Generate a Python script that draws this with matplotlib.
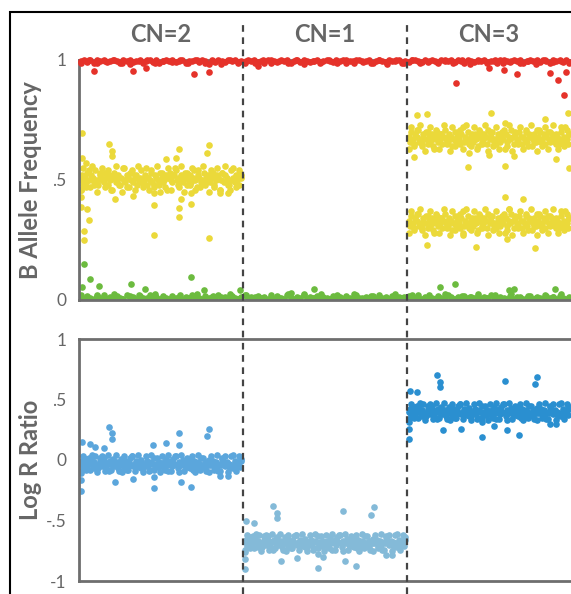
import numpy as np
import matplotlib
matplotlib.use("Agg")
import matplotlib.pyplot as plt
from matplotlib import transforms
from matplotlib.lines import Line2D
from matplotlib.patches import Rectangle

plt.rcParams['font.family'] = ['Lato', 'DejaVu Sans']

# segments along the chromosome (x units: one per segment)
segments = ["CN=2", "CN=1", "CN=3"]
seg_edges = [0, 1, 2, 3]

# ---- B allele frequency ----
# homozygous BB (red), across all three segments
baf_bb = [
    0.997, 1.0, 0.993, 0.998, 0.988, 1.0, 0.995, 0.999, 0.991, 0.997, 1.0, 0.994, 0.986, 0.998, 0.996,
    1.0, 0.992, 0.997, 0.999, 0.989, 0.995, 1.0, 0.993, 0.998, 0.987, 0.996, 1.0, 0.994, 0.999, 0.991,
    0.996, 1.0, 0.988, 0.997, 0.994, 0.999, 0.992, 1.0, 0.996, 0.985, 0.998, 0.993, 1.0, 0.995, 0.990,
    0.998, 0.994, 1.0, 0.991, 0.997, 0.987, 0.999, 0.995, 1.0, 0.993, 0.996, 0.989, 0.998, 1.0, 0.994,
    0.992, 0.999, 0.996, 1.0, 0.988, 0.995, 0.998, 0.993, 1.0, 0.997, 0.990, 0.996, 0.999, 0.986, 0.997,
    1.0, 0.995, 0.991, 0.998, 0.996, 1.0, 0.989, 0.997, 0.994, 0.999, 1.0, 0.992, 0.996, 0.998, 0.988,
    0.995, 1.0, 0.997, 0.990, 0.999, 0.994, 0.998, 1.0, 0.987, 0.996, 0.993, 0.999, 1.0, 0.995, 0.991,
    0.998, 0.992, 1.0, 0.996, 0.989, 0.999, 0.995, 0.997, 1.0, 0.990, 0.998, 0.994, 0.986, 1.0, 0.996,
    0.993, 0.999, 0.996, 1.0, 0.991, 0.997, 0.994, 0.988, 0.999, 1.0, 0.995, 0.992, 0.998, 0.996, 1.0,
    0.989, 0.997, 1.0, 0.994, 0.998, 0.992, 0.999, 0.996, 0.987, 1.0, 0.995, 0.998, 0.993, 0.999, 0.990,
]
baf_bb_extra = [
    0.988, 0.999, 0.986, 0.995, 1.0, 0.989, 0.985, 0.997, 0.999, 0.987, 0.996, 0.990,
    0.998, 0.986, 1.0, 0.988, 0.994, 0.985, 0.999, 0.987, 0.997, 0.989, 1.0, 0.986,
    0.995, 0.988, 0.999, 0.985, 0.996, 0.990, 1.0, 0.987, 0.998, 0.986, 0.994, 0.989,
    0.999, 0.985, 0.997, 0.988, 1.0, 0.986, 0.995, 0.990, 0.998, 0.987, 0.999, 0.985,
    0.996, 0.989, 1.0, 0.986, 0.994, 0.988, 0.997, 0.985, 0.999, 0.990, 0.995, 0.987,
]
# homozygous AA (green), across all three segments
baf_aa = [
    0.012, 0.006, 0.018, 0.009, 0.004, 0.015, 0.008, 0.021, 0.005, 0.011, 0.007, 0.016, 0.010, 0.004, 0.019,
    0.007, 0.013, 0.005, 0.017, 0.009, 0.004, 0.022, 0.008, 0.012, 0.006, 0.015, 0.010, 0.005, 0.018, 0.008,
    0.011, 0.005, 0.014, 0.008, 0.020, 0.006, 0.010, 0.004, 0.016, 0.009, 0.013, 0.005, 0.019, 0.007, 0.012,
    0.006, 0.016, 0.009, 0.004, 0.013, 0.021, 0.007, 0.011, 0.005, 0.017, 0.008, 0.014, 0.006, 0.010, 0.004,
    0.015, 0.008, 0.005, 0.019, 0.010, 0.006, 0.013, 0.009, 0.023, 0.005, 0.011, 0.007, 0.016, 0.004, 0.012,
    0.009, 0.004, 0.017, 0.007, 0.012, 0.005, 0.015, 0.010, 0.006, 0.020, 0.008, 0.004, 0.013, 0.009, 0.018,
    0.005, 0.014, 0.008, 0.011, 0.004, 0.018, 0.006, 0.012, 0.009, 0.005, 0.016, 0.010, 0.007, 0.021, 0.006,
    0.013, 0.007, 0.010, 0.004, 0.016, 0.008, 0.005, 0.019, 0.011, 0.006, 0.014, 0.004, 0.017, 0.009, 0.012,
    0.008, 0.015, 0.005, 0.012, 0.007, 0.020, 0.009, 0.004, 0.013, 0.010, 0.006, 0.018, 0.005, 0.011, 0.014,
    0.004, 0.010, 0.016, 0.006, 0.013, 0.008, 0.005, 0.017, 0.007, 0.012, 0.004, 0.015, 0.009, 0.006, 0.011,
]
baf_aa_extra = [
    0.022, 0.006, 0.019, 0.010, 0.024, 0.005, 0.017, 0.021, 0.008, 0.025, 0.012, 0.004,
    0.020, 0.009, 0.023, 0.006, 0.018, 0.011, 0.024, 0.005, 0.021, 0.014, 0.007, 0.022,
    0.010, 0.025, 0.006, 0.019, 0.008, 0.023, 0.004, 0.020, 0.012, 0.024, 0.007, 0.018,
    0.021, 0.005, 0.025, 0.011, 0.019, 0.006, 0.022, 0.009, 0.024, 0.004, 0.017, 0.013,
    0.023, 0.008, 0.020, 0.005, 0.025, 0.010, 0.018, 0.007, 0.022, 0.012, 0.024, 0.006,
]
# heterozygous, CN=2 (AB ~ .5)
baf_het_cn2 = [
    0.50, 0.52, 0.48, 0.51, 0.49, 0.53, 0.50, 0.47, 0.52, 0.51, 0.49, 0.54,
    0.50, 0.48, 0.52, 0.51, 0.50, 0.49, 0.53, 0.51, 0.48, 0.52, 0.50, 0.46,
    0.51, 0.53, 0.49, 0.50, 0.52, 0.48, 0.51, 0.55, 0.50, 0.49, 0.52, 0.51,
    0.47, 0.50, 0.53, 0.49, 0.51, 0.52, 0.48, 0.50, 0.51, 0.54, 0.49, 0.50,
    0.52, 0.48, 0.51, 0.50, 0.53, 0.49, 0.47, 0.52, 0.51, 0.50, 0.48, 0.53,
    0.51, 0.49, 0.50, 0.52, 0.46, 0.51, 0.53, 0.50, 0.49, 0.52, 0.55, 0.50,
    0.48, 0.51, 0.52, 0.50, 0.49, 0.53, 0.51, 0.48, 0.50, 0.52, 0.49, 0.51,
    0.54, 0.50, 0.47, 0.52, 0.51, 0.49, 0.50, 0.53, 0.48, 0.51, 0.52, 0.50,
    0.49, 0.51, 0.53, 0.48, 0.50, 0.52, 0.51, 0.46, 0.50, 0.53, 0.49, 0.52,
    0.51, 0.50, 0.48, 0.54, 0.50, 0.51, 0.49, 0.52, 0.50, 0.48, 0.53, 0.51,
]
baf_het_cn2_extra = [
    0.46, 0.55, 0.47, 0.54, 0.56, 0.48, 0.45, 0.53, 0.55, 0.47, 0.54, 0.46,
    0.52, 0.56, 0.48, 0.45, 0.55, 0.47, 0.53, 0.54, 0.46, 0.56, 0.49, 0.47,
    0.55, 0.46, 0.54, 0.48, 0.56, 0.45, 0.53, 0.47, 0.55, 0.46, 0.52, 0.54,
    0.47, 0.56, 0.45, 0.53, 0.48, 0.55, 0.46, 0.54, 0.47, 0.56, 0.49, 0.45,
    0.54, 0.47, 0.55, 0.46, 0.53, 0.56, 0.48, 0.46, 0.55, 0.47, 0.54, 0.52,
]
# heterozygous, CN=3 (ABB ~ .67 and AAB ~ .33)
baf_abb_cn3 = [
    0.68, 0.66, 0.70, 0.67, 0.65, 0.69, 0.68, 0.71, 0.66, 0.67, 0.64, 0.69,
    0.67, 0.70, 0.65, 0.68, 0.66, 0.69, 0.67, 0.63, 0.68, 0.70, 0.66, 0.67,
    0.69, 0.65, 0.68, 0.71, 0.67, 0.66, 0.69, 0.68, 0.64, 0.67, 0.70, 0.66,
    0.68, 0.67, 0.65, 0.69, 0.72, 0.66, 0.68, 0.67, 0.70, 0.65, 0.68, 0.69,
    0.66, 0.69, 0.67, 0.64, 0.68, 0.70, 0.66, 0.67, 0.69, 0.68, 0.65, 0.71,
    0.67, 0.68, 0.70, 0.66, 0.67, 0.65, 0.69, 0.68, 0.66, 0.70, 0.67, 0.63,
    0.69, 0.66, 0.68, 0.67, 0.71, 0.68, 0.65, 0.69, 0.67, 0.66, 0.70, 0.68,
    0.65, 0.68, 0.67, 0.70, 0.66, 0.69, 0.68, 0.64, 0.67, 0.69, 0.66, 0.71,
    0.68, 0.70, 0.66, 0.67, 0.69, 0.65, 0.68, 0.70, 0.67, 0.66, 0.69, 0.67,
    0.66, 0.69, 0.68, 0.65, 0.67, 0.70, 0.66, 0.68, 0.72, 0.67, 0.65, 0.69,
]
baf_abb_cn3_extra = [
    0.63, 0.72, 0.64, 0.71, 0.73, 0.65, 0.62, 0.70, 0.72, 0.64, 0.71, 0.63,
    0.69, 0.73, 0.65, 0.62, 0.72, 0.64, 0.70, 0.71, 0.63, 0.73, 0.66, 0.64,
    0.72, 0.63, 0.71, 0.65, 0.73, 0.62, 0.70, 0.64, 0.72, 0.63, 0.69, 0.71,
    0.64, 0.73, 0.62, 0.70, 0.65, 0.72, 0.63, 0.71, 0.64, 0.73, 0.66, 0.62,
    0.71, 0.64, 0.72, 0.63, 0.70, 0.73, 0.65, 0.63, 0.72, 0.64, 0.71, 0.69,
]
baf_aab_cn3 = [
    0.33, 0.31, 0.35, 0.32, 0.30, 0.34, 0.33, 0.36, 0.31, 0.32, 0.29, 0.34,
    0.32, 0.35, 0.30, 0.33, 0.31, 0.34, 0.32, 0.28, 0.33, 0.35, 0.31, 0.32,
    0.34, 0.30, 0.33, 0.36, 0.32, 0.31, 0.34, 0.33, 0.29, 0.32, 0.35, 0.31,
    0.33, 0.32, 0.30, 0.34, 0.37, 0.31, 0.33, 0.32, 0.35, 0.30, 0.33, 0.34,
    0.31, 0.34, 0.32, 0.29, 0.33, 0.35, 0.31, 0.32, 0.34, 0.33, 0.30, 0.36,
    0.32, 0.33, 0.35, 0.31, 0.32, 0.30, 0.34, 0.33, 0.31, 0.35, 0.32, 0.28,
    0.34, 0.31, 0.33, 0.32, 0.36, 0.33, 0.30, 0.34, 0.32, 0.31, 0.35, 0.33,
    0.30, 0.33, 0.32, 0.35, 0.31, 0.34, 0.33, 0.29, 0.32, 0.34, 0.31, 0.36,
    0.33, 0.35, 0.31, 0.32, 0.34, 0.30, 0.33, 0.35, 0.32, 0.31, 0.34, 0.32,
    0.31, 0.34, 0.33, 0.30, 0.32, 0.35, 0.31, 0.33, 0.37, 0.32, 0.30, 0.34,
]
baf_aab_cn3_extra = [
    0.28, 0.37, 0.29, 0.36, 0.38, 0.30, 0.27, 0.35, 0.37, 0.29, 0.36, 0.28,
    0.34, 0.38, 0.30, 0.27, 0.37, 0.29, 0.35, 0.36, 0.28, 0.38, 0.31, 0.29,
    0.37, 0.28, 0.36, 0.30, 0.38, 0.27, 0.35, 0.29, 0.37, 0.28, 0.34, 0.36,
    0.29, 0.38, 0.27, 0.35, 0.30, 0.37, 0.28, 0.36, 0.29, 0.38, 0.31, 0.27,
    0.36, 0.29, 0.37, 0.28, 0.35, 0.38, 0.30, 0.28, 0.37, 0.29, 0.36, 0.34,
]
# scattered calls off the clusters: (position, value)
baf_bb_out_x = [0.09, 0.33, 0.41, 0.70, 0.79, 1.09, 2.30, 2.50, 2.59, 2.67, 2.87, 2.92, 2.96, 2.97]
baf_bb_out_y = [0.954, 0.954, 0.967, 0.94, 0.95, 0.975, 0.904, 0.967, 0.958, 0.94, 0.946, 0.917, 0.854, 0.95]
baf_aa_out_x = [0.02, 0.03, 0.07, 0.12, 0.32, 0.40, 0.68, 0.76, 0.98, 1.29, 1.43, 2.20, 2.29, 2.62, 2.65, 2.90]
baf_aa_out_y = [0.054, 0.15, 0.087, 0.06, 0.066, 0.045, 0.096, 0.04, 0.042, 0.03, 0.045, 0.054, 0.066, 0.04, 0.046, 0.046]
baf_het_out_x = [0.02, 0.02, 0.04, 0.01, 0.01, 0.01, 0.05, 0.06, 0.03, 0.03, 0.18, 0.20, 0.20, 0.22,
                 0.33, 0.46, 0.46, 0.46, 0.53, 0.61, 0.62, 0.61, 0.61, 0.68, 0.68, 0.79, 0.78, 0.79,
                 0.86, 0.91, 0.59,
                 2.04, 2.06, 2.12, 2.37, 2.38, 2.50, 2.51, 2.60, 2.60, 2.65, 2.84, 2.91, 2.98, 2.99,
                 2.12, 2.34, 2.42, 2.60, 2.61, 2.62, 2.71, 2.78]
baf_het_out_y = [0.696, 0.59, 0.57, 0.46, 0.43, 0.387, 0.38, 0.333, 0.288, 0.25, 0.65, 0.62, 0.60, 0.42,
                 0.433, 0.446, 0.395, 0.27, 0.587, 0.63, 0.42, 0.383, 0.346, 0.40, 0.446, 0.646, 0.613, 0.258,
                 0.446, 0.446, 0.59,
                 0.596, 0.771, 0.775, 0.554, 0.612, 0.604, 0.78, 0.558, 0.737, 0.60, 0.754, 0.587, 0.78, 0.55,
                 0.229, 0.27, 0.221, 0.43, 0.254, 0.38, 0.42, 0.217]

# ---- Log R ratio ----
lrr_cn2 = [
    -0.03, -0.01, -0.06, -0.02, 0.01, -0.05, -0.03, -0.08, 0.00, -0.04, -0.02, 0.03,
    -0.04, -0.07, -0.01, -0.03, -0.05, 0.02, -0.02, -0.06, -0.03, -0.09, -0.01, -0.04,
    0.00, -0.05, -0.03, -0.02, -0.07, -0.04, 0.01, -0.03, -0.06, -0.01, -0.04, -0.08,
    -0.02, -0.04, 0.03, -0.05, -0.03, -0.01, -0.06, -0.02, -0.04, 0.00, -0.07, -0.03,
    -0.05, -0.01, -0.04, -0.08, -0.02, -0.03, 0.02, -0.05, -0.03, -0.06, -0.02, -0.04,
    -0.03, -0.06, -0.02, 0.01, -0.04, -0.09, -0.03, -0.01, -0.05, -0.03, 0.03, -0.04,
    -0.07, -0.02, -0.04, -0.03, 0.00, -0.05, -0.02, -0.06, -0.04, -0.01, -0.03, -0.08,
    -0.01, -0.04, -0.06, -0.02, -0.03, 0.02, -0.05, -0.03, -0.07, -0.02, -0.04, 0.00,
    -0.04, -0.03, -0.01, -0.06, -0.02, -0.05, -0.09, -0.03, -0.04, 0.01, -0.02, -0.05,
    -0.02, -0.05, -0.03, 0.03, -0.04, -0.07, -0.01, -0.03, -0.05, -0.02, -0.06, -0.01,
]
lrr_cn2_extra = [
    -0.09, 0.03, -0.08, 0.02, 0.04, -0.07, -0.10, 0.02, 0.03, -0.09, 0.04, -0.08,
    0.01, 0.04, -0.09, -0.10, 0.03, -0.08, 0.02, 0.03, -0.09, 0.04, -0.07, -0.10,
    0.03, -0.09, 0.04, -0.08, 0.02, -0.10, 0.03, -0.08, 0.04, -0.09, 0.01, 0.03,
    -0.10, 0.04, -0.09, 0.02, -0.07, 0.03, -0.10, 0.04, -0.08, 0.02, -0.09, -0.10,
    0.03, -0.08, 0.04, -0.09, 0.02, 0.03, -0.10, -0.07, 0.04, -0.09, 0.03, 0.01,
]
lrr_cn1 = [
    -0.68, -0.66, -0.71, -0.67, -0.64, -0.70, -0.68, -0.73, -0.65, -0.69, -0.67, -0.62,
    -0.69, -0.72, -0.66, -0.68, -0.70, -0.63, -0.67, -0.71, -0.68, -0.74, -0.66, -0.69,
    -0.65, -0.70, -0.68, -0.67, -0.72, -0.69, -0.64, -0.68, -0.71, -0.66, -0.69, -0.73,
    -0.67, -0.69, -0.62, -0.70, -0.68, -0.66, -0.71, -0.67, -0.69, -0.65, -0.72, -0.68,
    -0.70, -0.66, -0.69, -0.73, -0.67, -0.68, -0.63, -0.70, -0.68, -0.71, -0.67, -0.69,
    -0.68, -0.71, -0.67, -0.64, -0.69, -0.74, -0.68, -0.66, -0.70, -0.68, -0.62, -0.69,
    -0.72, -0.67, -0.69, -0.68, -0.65, -0.70, -0.67, -0.71, -0.69, -0.66, -0.68, -0.73,
    -0.66, -0.69, -0.71, -0.67, -0.68, -0.63, -0.70, -0.68, -0.72, -0.67, -0.69, -0.65,
    -0.69, -0.68, -0.66, -0.71, -0.67, -0.70, -0.74, -0.68, -0.69, -0.64, -0.67, -0.70,
    -0.67, -0.70, -0.68, -0.62, -0.69, -0.72, -0.66, -0.68, -0.70, -0.67, -0.71, -0.66,
]
lrr_cn1_extra = [
    -0.74, -0.62, -0.73, -0.63, -0.61, -0.72, -0.75, -0.63, -0.62, -0.74, -0.61, -0.73,
    -0.64, -0.61, -0.74, -0.75, -0.62, -0.73, -0.63, -0.62, -0.74, -0.61, -0.72, -0.75,
    -0.62, -0.74, -0.61, -0.73, -0.63, -0.75, -0.62, -0.73, -0.61, -0.74, -0.64, -0.62,
    -0.75, -0.61, -0.74, -0.63, -0.72, -0.62, -0.75, -0.61, -0.73, -0.63, -0.74, -0.75,
    -0.62, -0.73, -0.61, -0.74, -0.63, -0.62, -0.75, -0.72, -0.61, -0.74, -0.62, -0.64,
]
lrr_cn3 = [
    0.40, 0.42, 0.37, 0.41, 0.44, 0.38, 0.40, 0.35, 0.43, 0.39, 0.41, 0.46,
    0.39, 0.36, 0.42, 0.40, 0.38, 0.45, 0.41, 0.37, 0.40, 0.34, 0.42, 0.39,
    0.43, 0.38, 0.40, 0.41, 0.36, 0.39, 0.44, 0.40, 0.37, 0.42, 0.39, 0.35,
    0.41, 0.39, 0.46, 0.38, 0.40, 0.42, 0.37, 0.41, 0.39, 0.43, 0.36, 0.40,
    0.38, 0.42, 0.39, 0.35, 0.41, 0.40, 0.45, 0.38, 0.40, 0.37, 0.41, 0.39,
    0.40, 0.37, 0.41, 0.44, 0.39, 0.34, 0.40, 0.42, 0.38, 0.40, 0.46, 0.39,
    0.36, 0.41, 0.39, 0.40, 0.43, 0.38, 0.41, 0.37, 0.39, 0.42, 0.40, 0.35,
    0.42, 0.39, 0.37, 0.41, 0.40, 0.45, 0.38, 0.40, 0.36, 0.41, 0.39, 0.43,
    0.39, 0.40, 0.42, 0.37, 0.41, 0.38, 0.34, 0.40, 0.39, 0.44, 0.41, 0.38,
    0.41, 0.38, 0.40, 0.46, 0.39, 0.36, 0.42, 0.40, 0.38, 0.41, 0.37, 0.42,
]
lrr_cn3_extra = [
    0.34, 0.46, 0.35, 0.45, 0.47, 0.36, 0.33, 0.45, 0.46, 0.34, 0.47, 0.35,
    0.44, 0.47, 0.34, 0.33, 0.46, 0.35, 0.45, 0.46, 0.34, 0.47, 0.36, 0.33,
    0.46, 0.34, 0.47, 0.35, 0.45, 0.33, 0.46, 0.35, 0.47, 0.34, 0.44, 0.46,
    0.33, 0.47, 0.34, 0.45, 0.36, 0.46, 0.33, 0.47, 0.35, 0.45, 0.34, 0.33,
    0.46, 0.35, 0.47, 0.34, 0.45, 0.46, 0.33, 0.36, 0.47, 0.34, 0.46, 0.44,
]
lrr_cn2_out_x = [0.18, 0.20, 0.20, 0.61, 0.79, 0.78, 0.02, 0.07, 0.01, 0.01, 0.01, 0.22, 0.33, 0.46,
                 0.62, 0.68, 0.46, 0.91, 0.86, 0.10, 0.15, 0.53, 0.45, 0.61]
lrr_cn2_out_y = [0.27, 0.22, 0.17, 0.22, 0.26, 0.20, 0.15, 0.13, -0.11, -0.165, -0.26, -0.18, -0.157, -0.23,
                 -0.18, -0.22, -0.14, -0.13, -0.13, 0.11, 0.10, 0.14, 0.12, 0.12]
lrr_cn1_out_x = [1.18, 1.21, 1.21, 1.61, 1.80, 1.78, 1.02, 1.07, 1.01, 1.01, 1.01, 1.23, 1.33, 1.46,
                 1.62, 1.69, 1.87, 1.91, 1.46, 1.49]
lrr_cn1_out_y = [-0.38, -0.44, -0.48, -0.42, -0.39, -0.455, -0.50, -0.52, -0.76, -0.82, -0.90, -0.835, -0.81, -0.89,
                 -0.835, -0.875, -0.785, -0.785, -0.78, -0.80]
lrr_cn3_out_x = [2.18, 2.20, 2.20, 2.60, 2.79, 2.78, 2.02, 2.06, 2.01, 2.01, 2.01, 2.22, 2.33, 2.46,
                 2.61, 2.68, 2.87, 2.91, 2.46, 2.53]
lrr_cn3_out_y = [0.70, 0.645, 0.60, 0.65, 0.69, 0.63, 0.57, 0.56, 0.31, 0.26, 0.17, 0.25, 0.26, 0.19,
                 0.25, 0.21, 0.30, 0.30, 0.31, 0.28]

# colours
RED = '#e5322a'
YELLOW = '#ebd93a'
GREEN = '#6cbb3f'
BLUE_CN2 = '#5ba6dc'
BLUE_CN1 = '#84bad8'
BLUE_CN3 = '#2a8fd0'
GREY = '#666666'
SPINE = '#6e6e6e'


def positions(n, start, stop):
    # evenly spaced probe order within a segment
    return np.linspace(start + 0.01, stop - 0.01, n)


W, H = 571, 594
fig = plt.figure(figsize=(W / 100, H / 100), dpi=100)
ax1 = fig.add_axes([79 / W, (H - 300) / H, 492 / W, 240 / H])
ax2 = fig.add_axes([79 / W, (H - 581) / H, 492 / W, 242 / H])

ms = 23


def band(ax, vals, start, stop, col, **kw):
    ax.scatter(positions(len(vals), start, stop), vals, s=ms, c=col, lw=0, **kw)


# BAF panel
band(ax1, baf_aa, 0, 3, GREEN, zorder=1)
band(ax1, baf_aa_extra, 0, 3, GREEN, zorder=1)
ax1.scatter(baf_aa_out_x, baf_aa_out_y, s=ms, c=GREEN, lw=0, zorder=1)
band(ax1, baf_het_cn2_extra, 0, 1, YELLOW)
band(ax1, baf_het_cn2, 0, 1, YELLOW)
band(ax1, baf_abb_cn3_extra, 2, 3, YELLOW)
band(ax1, baf_abb_cn3, 2, 3, YELLOW)
band(ax1, baf_aab_cn3_extra, 2, 3, YELLOW)
band(ax1, baf_aab_cn3, 2, 3, YELLOW)
ax1.scatter(baf_het_out_x, baf_het_out_y, s=ms, c=YELLOW, lw=0)
band(ax1, baf_bb_extra, 0, 3, RED, zorder=3, clip_on=False)
band(ax1, baf_bb, 0, 3, RED, zorder=3, clip_on=False)
ax1.scatter(baf_bb_out_x, baf_bb_out_y, s=ms, c=RED, lw=0, zorder=3)

# LRR panel
for vals, extra, ox, oy, seg, col in [
        (lrr_cn2, lrr_cn2_extra, lrr_cn2_out_x, lrr_cn2_out_y, 0, BLUE_CN2),
        (lrr_cn1, lrr_cn1_extra, lrr_cn1_out_x, lrr_cn1_out_y, 1, BLUE_CN1),
        (lrr_cn3, lrr_cn3_extra, lrr_cn3_out_x, lrr_cn3_out_y, 2, BLUE_CN3)]:
    band(ax2, extra, seg_edges[seg], seg_edges[seg + 1], col)
    band(ax2, vals, seg_edges[seg], seg_edges[seg + 1], col)
    ax2.scatter(ox, oy, s=ms, c=col, lw=0)

for ax in (ax1, ax2):
    ax.set_xlim(0, 3)
    ax.set_xticks([])
    ax.spines['right'].set_visible(False)
    for side in ('left', 'top', 'bottom'):
        ax.spines[side].set_color(SPINE)
        ax.spines[side].set_linewidth(2)
    ax.tick_params(axis='y', length=0, pad=9, labelsize=12.5, labelcolor=GREY)
    ax.yaxis.label.set_color(GREY)

ax1.set_ylim(0, 1)
ax1.set_yticks([0, 0.5, 1])
ax1.set_yticklabels(['0', '.5', '1'])
ax1.set_ylabel('B Allele Frequency', fontsize=17, fontweight='bold')
ax2.set_ylim(-1, 1)
ax2.set_yticks([-1, -0.5, 0, 0.5, 1])
ax2.set_yticklabels(['-1', '-.5', '0', '.5', '1'])
ax2.set_ylabel('Log R Ratio', fontsize=17, fontweight='bold')
ax1.yaxis.set_label_coords(-0.075, 0.5)
ax2.yaxis.set_label_coords(-0.075, 0.5)

# segment boundaries and labels
blend = transforms.blended_transform_factory(ax1.transData, fig.transFigure)
for xb in seg_edges[1:-1]:
    fig.add_artist(Line2D([xb, xb], [0, (H - 22) / H], transform=blend,
                          color='#444444', lw=1.6, ls=(0, (3, 2.5)), zorder=5))
for i, name in enumerate(segments):
    fig.text(i + 0.5, (H - 35) / H, name, transform=blend, ha='center', va='center',
             fontsize=17, fontweight='bold', color=GREY)

# outer frame
fig.add_artist(Rectangle((10 / W, -0.2), 1.2, (H - 12) / H + 0.2, transform=fig.transFigure,
                         fill=False, edgecolor='black', lw=1.5))

fig.savefig('out.png', dpi=100)
